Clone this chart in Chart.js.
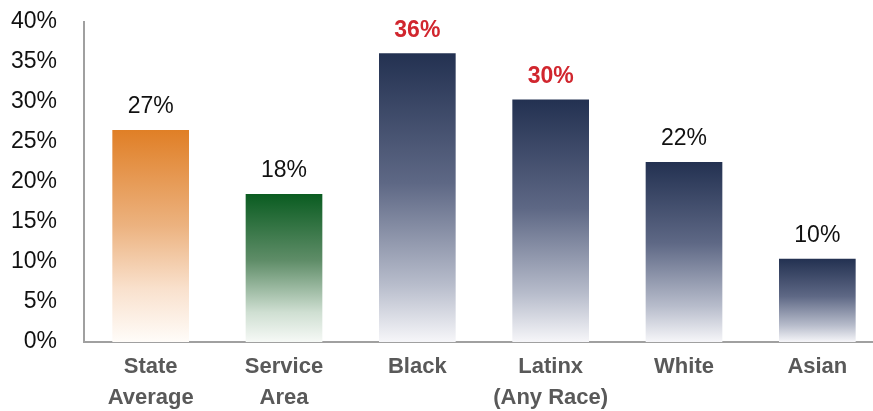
<!DOCTYPE html>
<html>
<head>
<meta charset="utf-8">
<script src="https://cdn.jsdelivr.net/npm/chart.js@4/dist/chart.umd.min.js"></script>
<style>
  html, body { margin: 0; padding: 0; background: #fff; overflow: hidden; }
  #wrap { width: 884px; height: 411px; position: relative; }
</style>
</head>
<body>
<div id="wrap"><canvas id="c"></canvas></div>
<script>
const categories = [["State", "Average"], ["Service", "Area"], "Black", ["Latinx", "(Any Race)"], "White", "Asian"];
const values = [26.5, 18.5, 36.1, 30.3, 22.5, 10.4];
const valueLabels = ["27%", "18%", "36%", "30%", "22%", "10%"];
const labelColors = ["#111111", "#111111", "#d1262e", "#d1262e", "#111111", "#111111"];
const labelBold = [false, false, true, true, false, false];
const barPalettes = ["orange", "green", "navy", "navy", "navy", "navy"];
const yTicks = [0, 5, 10, 15, 20, 25, 30, 35, 40];

const gradientStops = {
  orange: [[0, "#e07f26"], [0.45, "#ecb27f"], [0.75, "#f9e1cd"], [1, "#fffcf9"]],
  green:  [[0, "#0a5c21"], [0.45, "#5f8d68"], [0.8, "#cfdfd2"], [1, "#f6f9f6"]],
  navy:   [[0, "#233151"], [0.45, "#5e6885"], [0.8, "#b7bccb"], [1, "#f6f6f9"]]
};

function barGradient(ctx) {
  const chart = ctx.chart;
  const y = chart.scales.y;
  if (!y || ctx.dataIndex === undefined) return "#233151";
  const top = y.getPixelForValue(values[ctx.dataIndex]);
  const bottom = y.getPixelForValue(0);
  if (!isFinite(top) || !isFinite(bottom)) return "#233151";
  const g = chart.ctx.createLinearGradient(0, top, 0, bottom);
  gradientStops[barPalettes[ctx.dataIndex]].forEach(s => g.addColorStop(s[0], s[1]));
  return g;
}

const valueLabelPlugin = {
  id: "valueLabels",
  afterDatasetsDraw(chart) {
    const ctx = chart.ctx;
    const meta = chart.getDatasetMeta(0);
    ctx.save();
    ctx.textAlign = "center";
    ctx.textBaseline = "middle";
    meta.data.forEach((bar, i) => {
      ctx.font = (labelBold[i] ? "bold " : "") + "23px 'Liberation Sans', Arial, sans-serif";
      ctx.fillStyle = labelColors[i];
      ctx.fillText(valueLabels[i], bar.x, bar.y - 23);
    });
    ctx.restore();
  }
};

new Chart(document.getElementById("c"), {
  type: "bar",
  data: {
    labels: categories,
    datasets: [{
      data: values,
      backgroundColor: barGradient,
      borderWidth: 0,
      categoryPercentage: 1,
      barPercentage: 0.575
    }]
  },
  options: {
    responsive: true,
    maintainAspectRatio: false,
    animation: false,
    layout: { padding: { top: 22, right: 0, bottom: 0, left: 0 } },
    plugins: { legend: { display: false }, tooltip: { enabled: false } },
    scales: {
      y: {
        min: 0, max: 40,
        afterBuildTicks(scale) { scale.ticks = yTicks.map(v => ({ value: v })); },
        afterFit(scale) { scale.width = 84; scale.paddingTop = 0; scale.paddingBottom = 0; },
        grid: { display: false, drawTicks: false },
        border: { display: true, color: "#a0a0a0", width: 2 },
        ticks: {
          padding: 27,
          color: "#111111",
          font: { family: "'Liberation Sans', Arial, sans-serif", size: 23 },
          callback: v => v + "%"
        }
      },
      x: {
        afterFit(scale) { scale.height = 69; },
        grid: { display: false, drawTicks: false },
        border: { display: true, color: "#a0a0a0", width: 2 },
        ticks: {
          padding: 10,
          color: "#595959",
          maxRotation: 0,
          autoSkip: false,
          font: { family: "'Liberation Sans', Arial, sans-serif", size: 22, weight: "bold", lineHeight: 1.4 }
        }
      }
    }
  },
  plugins: [valueLabelPlugin]
});
</script>
</body>
</html>
